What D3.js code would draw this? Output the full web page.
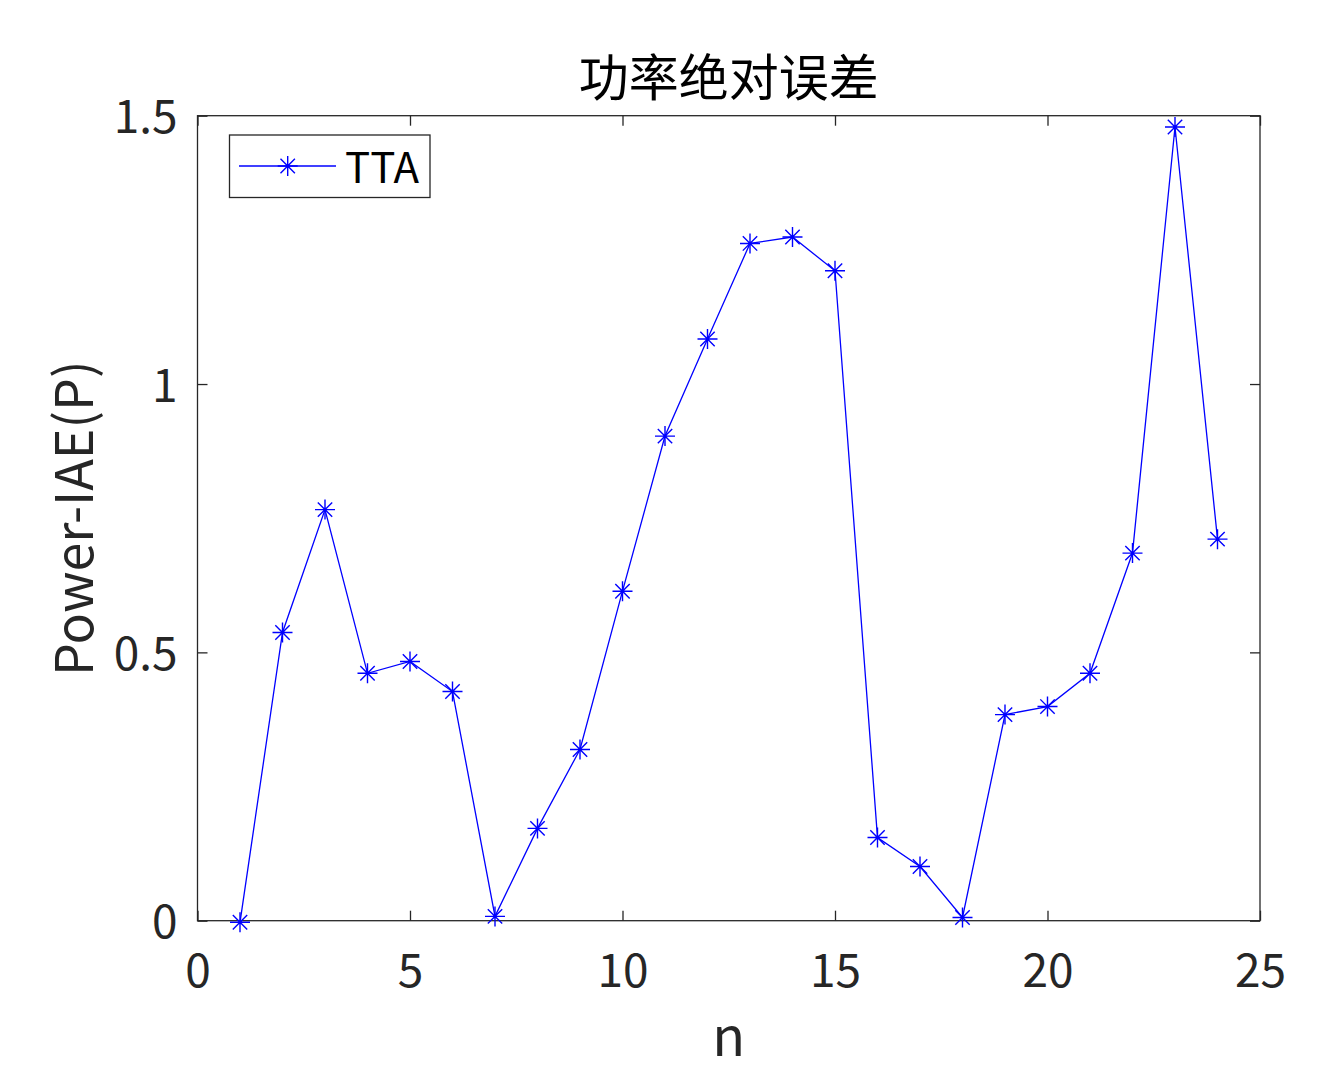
<!DOCTYPE html>
<html><head><meta charset="utf-8">
<script src="https://cdn.jsdelivr.net/npm/d3@7"></script>
<style>body{margin:0;background:#fff;}svg{display:block;font-family:"Noto Sans CJK SC","Noto Sans",sans-serif;}</style>
</head><body>
<script>
const nValues = [1,2,3,4,5,6,7,8,9,10,11,12,13,14,15,16,17,18,19,20,21,22,23,24];
const ttaValues = [-0.003,0.537,0.766,0.461,0.483,0.427,0.008,0.172,0.319,0.614,0.903,1.084,1.262,1.274,1.211,0.155,0.101,0.006,0.384,0.399,0.461,0.685,1.479,0.711];
const xTicks = [0,5,10,15,20,25];
const yTicks = [0,0.5,1,1.5];
const yTickLabels = ["0","0.5","1","1.5"];
const seriesName = "TTA";
const titleText = "功率绝对误差";
const xLabel = "n";
const yLabel = "Power-IAE(P)";

const W = 1342, H = 1078;
const L = 197.5, R = 1260, T = 115.7, B = 920.7;
const svg = d3.select("body").append("svg").attr("width", W).attr("height", H);
const x = d3.scaleLinear().domain([0,25]).range([L,R]);
const y = d3.scaleLinear().domain([0,1.5]).range([B,T]);
const axisColor = "#262626";
const tickLen = 10;
const ff = "'Noto Sans CJK SC','Noto Sans',sans-serif";

// box
svg.append("rect").attr("x",L).attr("y",T).attr("width",R-L).attr("height",B-T)
  .attr("fill","none").attr("stroke",axisColor).attr("stroke-width",1.3);

// axes
const xAxis = svg.append("g").attr("transform",`translate(0,${B})`)
  .call(d3.axisBottom(x).tickValues(xTicks).tickSize(-tickLen).tickPadding(22).tickFormat(d3.format("d")));
const xAxisTop = svg.append("g").attr("transform",`translate(0,${T})`)
  .call(d3.axisTop(x).tickValues(xTicks).tickSize(-tickLen).tickFormat(""));
const yAxis = svg.append("g").attr("transform",`translate(${L},0)`)
  .call(d3.axisLeft(y).tickValues(yTicks).tickSize(-tickLen).tickPadding(20).tickFormat((d,i)=>yTickLabels[i]));
const yAxisR = svg.append("g").attr("transform",`translate(${R},0)`)
  .call(d3.axisRight(y).tickValues(yTicks).tickSize(-tickLen).tickFormat(""));
[xAxis,xAxisTop,yAxis,yAxisR].forEach(g=>{
  g.select(".domain").remove();
  g.selectAll(".tick line").attr("stroke",axisColor).attr("stroke-width",1.3);
  g.selectAll(".tick text").attr("fill",axisColor).attr("font-size",46).attr("font-family",ff);
});
xAxis.selectAll(".tick text").attr("y",66).attr("dy",0);
yAxis.selectAll(".tick text").attr("dy","0.37em");

// line
const blue = "#0000ff";
svg.append("path").datum(nValues.map((n,i)=>[n,ttaValues[i]]))
  .attr("fill","none").attr("stroke",blue).attr("stroke-width",1.3)
  .attr("d", d3.line().x(d=>x(d[0])).y(d=>y(d[1])));

function star(g, cx, cy, r){
  const p = [];
  p.push(`M${cx-r},${cy}L${cx+r},${cy}`);
  p.push(`M${cx},${cy-r}L${cx},${cy+r}`);
  const d = r*0.72;
  p.push(`M${cx-d},${cy-d}L${cx+d},${cy+d}`);
  p.push(`M${cx-d},${cy+d}L${cx+d},${cy-d}`);
  g.append("path").attr("d",p.join("")).attr("stroke",blue).attr("stroke-width",1.4).attr("fill","none");
}
const mg = svg.append("g");
nValues.forEach((n,i)=>star(mg, x(n), y(ttaValues[i]), 10));

// legend
const lg = svg.append("g");
lg.append("rect").attr("x",229.5).attr("y",135).attr("width",200.5).attr("height",62.5)
  .attr("fill","#fff").attr("stroke",axisColor).attr("stroke-width",1.3);
lg.append("line").attr("x1",239).attr("x2",336).attr("y1",166).attr("y2",166).attr("stroke",blue).attr("stroke-width",1.3);
star(lg, 287.7, 166, 10);
lg.append("text").attr("x",345).attr("y",183).attr("font-size",42)
  .attr("fill","#000").text(seriesName);

// title & labels
svg.append("text").attr("x",(L+R)/2).attr("y",96).attr("text-anchor","middle")
  .attr("font-size",50).attr("fill","#000").text(titleText);
svg.append("text").attr("x",(L+R)/2).attr("y",1056).attr("text-anchor","middle")
  .attr("font-size",54).attr("fill",axisColor).text(xLabel);
svg.append("text").attr("transform",`translate(93,${(T+B)/2}) rotate(-90)`).attr("text-anchor","middle")
  .attr("font-size",52).attr("fill",axisColor).text(yLabel);
</script>
</body></html>
